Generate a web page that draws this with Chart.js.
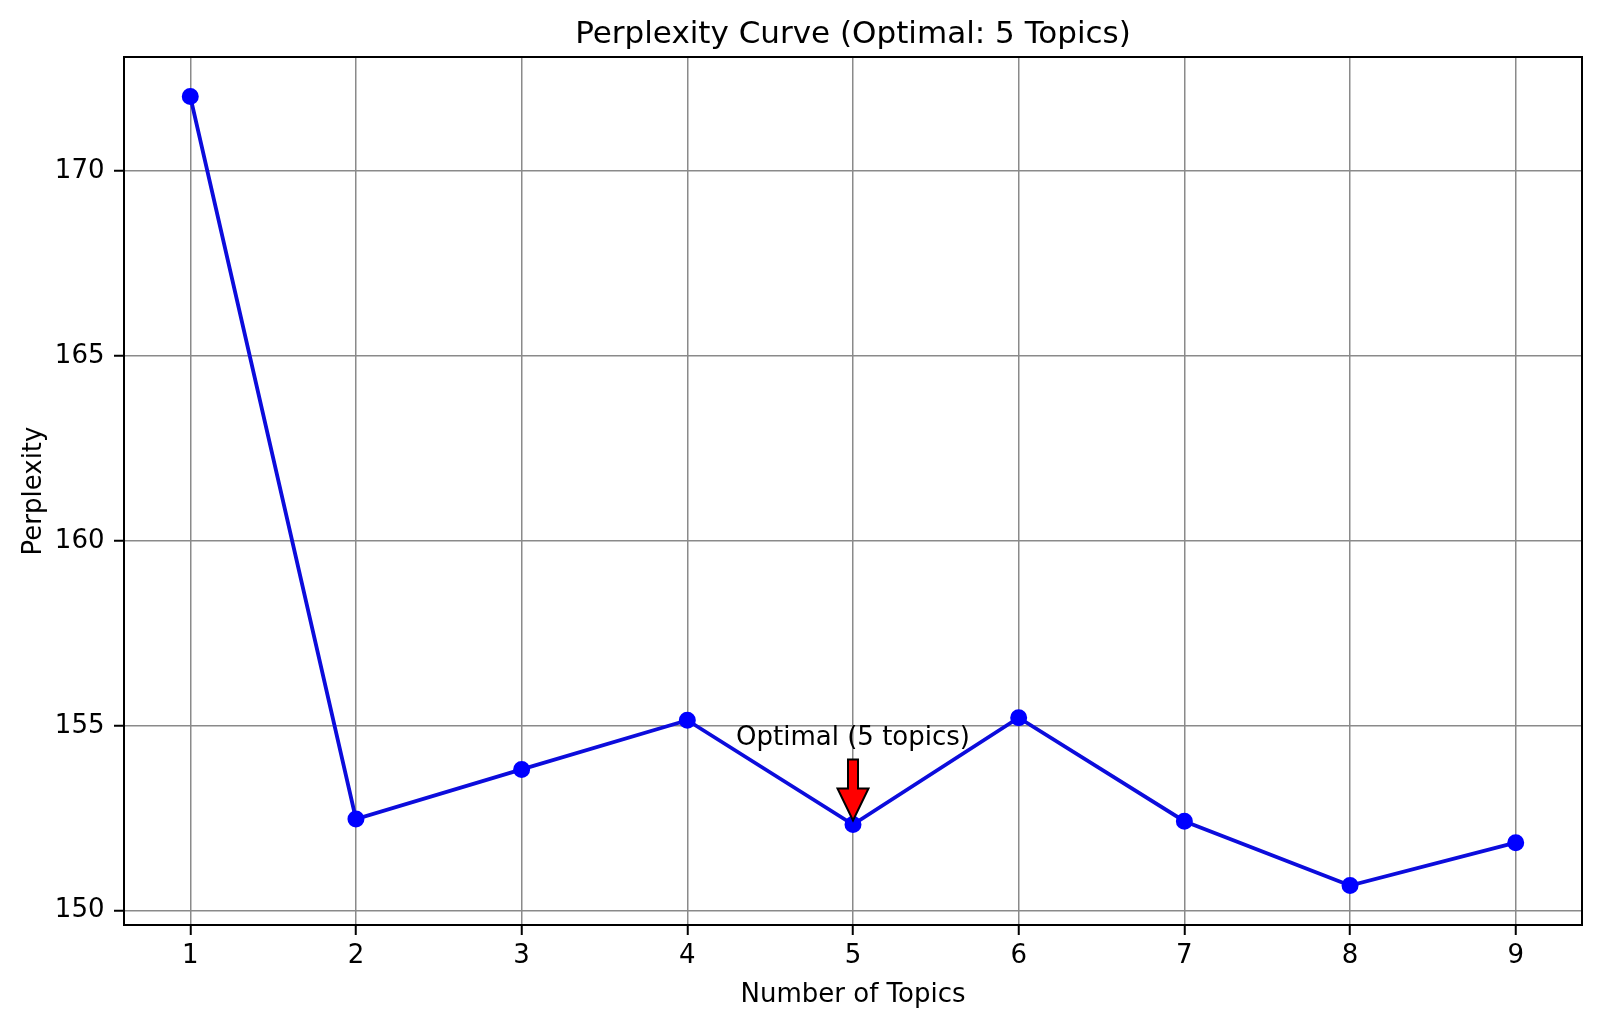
<!DOCTYPE html>
<html>
<head>
<meta charset="utf-8">
<title>Perplexity Curve</title>
<script src="https://cdn.jsdelivr.net/npm/chart.js@4.4.1/dist/chart.umd.min.js"></script>
<style>
  html, body { margin: 0; padding: 0; background: #fff; }
  #wrap { width: 1600px; height: 1026px; position: relative; }
</style>
</head>
<body>
<div id="wrap"><canvas id="perplexity-chart"></canvas></div>
<script>
(function () {
    "use strict";

    // Data
    const topicCounts   = [1, 2, 3, 4, 5, 6, 7, 8, 9];
    const perplexity    = [172.02, 152.48, 153.82, 155.15, 152.33, 155.22, 152.42, 150.68, 151.84];
    const xTickValues   = [1, 2, 3, 4, 5, 6, 7, 8, 9];
    const yTickValues   = [150, 155, 160, 165, 170];
    const optimalTopics = 5;

    const chartTitle     = "Perplexity Curve (Optimal: 5 Topics)";
    const xAxisTitle     = "Number of Topics";
    const yAxisTitle     = "Perplexity";
    const annotationText = "Optimal (5 topics)";

    // matplotlib-like autoscale, 5% margins
    function padRange(values) {
        const lo = Math.min.apply(null, values);
        const hi = Math.max.apply(null, values);
        const m = (hi - lo) * 0.05;
        return { min: lo - m, max: hi + m };
    }
    const xRange = padRange(topicCounts);
    const yRange = padRange(perplexity);

    const FONT = '"DejaVu Sans", "Liberation Sans", sans-serif';
    Chart.defaults.font.family = FONT;
    Chart.defaults.color = "#000";

    // Title, frame and the arrow annotation
    const decorations = {
        id: "decorations",
        afterDatasetsDraw(chart) {
            const { ctx, scales } = chart;
            const idx = topicCounts.indexOf(optimalTopics);
            const px = scales.x.getPixelForValue(optimalTopics);
            const py = scales.y.getPixelForValue(perplexity[idx]);

            ctx.save();
            // arrow (points down onto the optimal point)
            const tail = py - 65, neck = py - 36, tip = py - 4;
            ctx.beginPath();
            ctx.moveTo(px - 5, tail);
            ctx.lineTo(px + 5, tail);
            ctx.lineTo(px + 5, neck);
            ctx.lineTo(px + 15.5, neck);
            ctx.lineTo(px, tip);
            ctx.lineTo(px - 15.5, neck);
            ctx.lineTo(px - 5, neck);
            ctx.closePath();
            ctx.fillStyle = "#ff0000";
            ctx.fill();
            ctx.lineWidth = 2;
            ctx.lineJoin = "miter";
            ctx.strokeStyle = "#000";
            ctx.stroke();

            // annotation text
            ctx.font = "26px " + FONT;
            ctx.fillStyle = "#000";
            ctx.textAlign = "center";
            ctx.textBaseline = "alphabetic";
            ctx.fillText(annotationText, px, py - 80);
            ctx.restore();
        },
        afterDraw(chart) {
            const { ctx, chartArea } = chart;
            ctx.save();
            // axes frame
            ctx.lineWidth = 2;
            ctx.strokeStyle = "#000";
            ctx.strokeRect(chartArea.left, chartArea.top,
                chartArea.right - chartArea.left, chartArea.bottom - chartArea.top);

            // title
            ctx.font = "31px " + FONT;
            ctx.fillStyle = "#000";
            ctx.textAlign = "center";
            ctx.textBaseline = "alphabetic";
            ctx.fillText(chartTitle, (chartArea.left + chartArea.right) / 2, 43);
            ctx.restore();
        }
    };

    const gridStyle = {
        color: "#8a8a8a",
        lineWidth: 1.5,
        drawTicks: true,
        tickLength: 10,
        tickColor: "#000",
        tickWidth: 2
    };

    new Chart(document.getElementById("perplexity-chart"), {
        type: "line",
        data: {
            datasets: [{
                label: yAxisTitle,
                data: topicCounts.map((t, i) => ({ x: t, y: perplexity[i] })),
                borderColor: "#0c0cdc",
                borderWidth: 3.8,
                tension: 0,
                pointRadius: 7.5,
                pointHoverRadius: 7.5,
                pointBorderWidth: 2,
                pointBackgroundColor: "#0000ff",
                pointBorderColor: "#0000ff",
                fill: false
            }]
        },
        options: {
            responsive: true,
            maintainAspectRatio: false,
            animation: false,
            devicePixelRatio: 1,
            layout: { padding: { top: 57, right: 18, left: 0, bottom: 0 } },
            plugins: {
                legend: { display: false },
                title: { display: false },
                tooltip: { enabled: false }
            },
            scales: {
                x: {
                    type: "linear",
                    min: xRange.min,
                    max: xRange.max,
                    grid: gridStyle,
                    border: { display: false },
                    afterBuildTicks: (scale) => {
                        scale.ticks = xTickValues.map((v) => ({ value: v }));
                    },
                    afterFit: (scale) => { scale.height = 101; },
                    ticks: {
                        padding: 5.5,
                        maxRotation: 0,
                        font: { size: 26 },
                        callback: (v) => String(v)
                    },
                    title: {
                        display: true,
                        text: xAxisTitle,
                        font: { size: 26 },
                        padding: 15
                    }
                },
                y: {
                    type: "linear",
                    min: yRange.min,
                    max: yRange.max,
                    grid: gridStyle,
                    border: { display: false },
                    afterBuildTicks: (scale) => {
                        scale.ticks = yTickValues.map((v) => ({ value: v }));
                    },
                    afterFit: (scale) => { scale.width = 124; },
                    ticks: {
                        padding: 9.5,
                        font: { size: 26 },
                        callback: (v) => String(v)
                    },
                    title: {
                        display: true,
                        text: yAxisTitle,
                        font: { size: 26 },
                        padding: 19
                    }
                }
            }
        },
        plugins: [decorations]
    });
})();
</script>
</body>
</html>
